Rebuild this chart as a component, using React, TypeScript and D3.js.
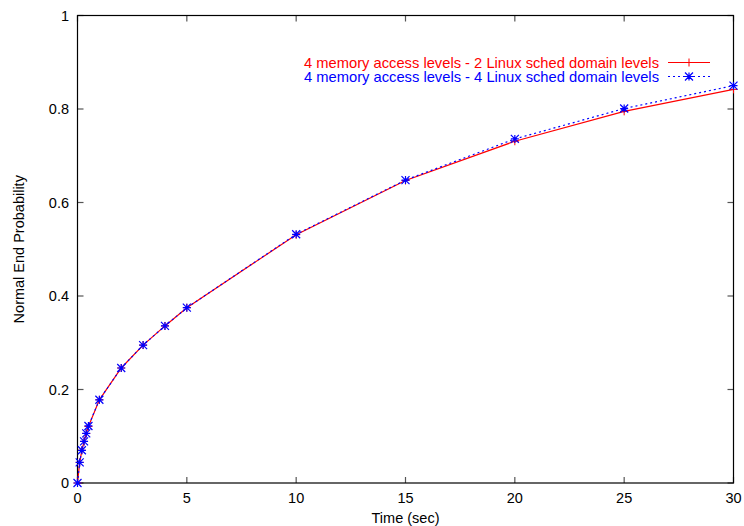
import React from "react";
import * as d3 from "d3";

const times = [0, 0.1, 0.2, 0.3, 0.4, 0.5, 1, 2, 3, 4, 5, 10, 15, 20, 25, 30];
const series2Levels = [0, 0.044, 0.07, 0.089, 0.106, 0.121, 0.178, 0.246, 0.295, 0.336, 0.375, 0.531, 0.647, 0.731, 0.795, 0.842];
const series4Levels = [0, 0.044, 0.07, 0.089, 0.106, 0.122, 0.178, 0.246, 0.295, 0.336, 0.375, 0.532, 0.648, 0.736, 0.801, 0.850];
const xTicks = [0, 5, 10, 15, 20, 25, 30];
const yTicks = [0, 0.2, 0.4, 0.6, 0.8, 1];
const labels = [
  "4 memory access levels - 2 Linux sched domain levels",
  "4 memory access levels - 4 Linux sched domain levels",
];

const W = 744;
const H = 526;
const left = 77.5;
const right = 733.5;
const top = 15.5;
const bottom = 483;
const FONT = "'Liberation Sans', Arial, sans-serif";
const FS = 14.5;

export default function App() {
  const x = d3.scaleLinear().domain([0, 30]).range([left, right]);
  const y = d3.scaleLinear().domain([0, 1]).range([bottom, top]);
  const line = d3
    .line<number>()
    .x((_, i) => x(times[i]))
    .y((d) => y(d));

  const plus = (cx: number, cy: number, s: number, color: string, key: string) => (
    <path key={key} d={`M${cx - s},${cy}H${cx + s}M${cx},${cy - s}V${cy + s}`} stroke={color} strokeWidth={1} fill="none" />
  );
  const star = (cx: number, cy: number, s: number, color: string, key: string) => (
    <path
      key={key}
      d={`M${cx - s},${cy}H${cx + s}M${cx},${cy - s}V${cy + s}M${cx - s},${cy - s}L${cx + s},${cy + s}M${cx - s},${cy + s}L${cx + s},${cy - s}`}
      stroke={color}
      strokeWidth={1.2}
      fill="none"
    />
  );

  const tickLen = 6;
  const tickColor = "#555";

  return (
    <svg width={W} height={H} style={{ position: "absolute", left: 0, top: 0 }} fontFamily={FONT}>
      <rect x={0} y={0} width={W} height={H} fill="#fff" />
      {xTicks.map((t) => (
        <g key={"xt" + t}>
          <line x1={x(t)} x2={x(t)} y1={bottom} y2={bottom - tickLen} stroke={tickColor} strokeWidth={1.2} />
          <line x1={x(t)} x2={x(t)} y1={top} y2={top + tickLen} stroke={tickColor} strokeWidth={1.2} />
          <text x={x(t)} y={503} textAnchor="middle" fontSize={FS} fill="#000">
            {t}
          </text>
        </g>
      ))}
      {yTicks.map((t) => (
        <g key={"yt" + t}>
          <line x1={left} x2={left + tickLen} y1={y(t)} y2={y(t)} stroke={tickColor} strokeWidth={1.2} />
          <line x1={right} x2={right - tickLen} y1={y(t)} y2={y(t)} stroke={tickColor} strokeWidth={1.2} />
          <text x={69} y={y(t)} dy="0.36em" textAnchor="end" fontSize={FS} fill="#000">
            {d3.format("~g")(t)}
          </text>
        </g>
      ))}
      <rect x={left} y={top} width={right - left} height={bottom - top} fill="none" stroke="#000" strokeWidth={1.2} />
      <text x={(left + right) / 2} y={523} textAnchor="middle" fontSize={FS} fill="#000">
        Time (sec)
      </text>
      <text
        transform={`translate(23.5,${(top + bottom) / 2}) rotate(-90)`}
        textAnchor="middle"
        fontSize={FS}
        fill="#000"
      >
        Normal End Probability
      </text>
      <path d={line(series2Levels) || ""} fill="none" stroke="#ff0000" strokeWidth={1.2} />
      {series2Levels.map((v, i) => plus(x(times[i]), y(v), 4, "#ff0000", "p" + i))}
      <path d={line(series4Levels) || ""} fill="none" stroke="#0000ff" strokeWidth={1.2} strokeDasharray="2,3" />
      {series4Levels.map((v, i) => star(x(times[i]), y(v), 4, "#0000ff", "s" + i))}
      <text x={304} y={62.5} dy="0.36em" fontSize={FS} fill="#ff0000" textLength={355} lengthAdjust="spacingAndGlyphs">
        {labels[0]}
      </text>
      <line x1={668} x2={710} y1={62.5} y2={62.5} stroke="#ff0000" strokeWidth={1.2} />
      {plus(689, 62.5, 4, "#ff0000", "lp")}
      <text x={304} y={76.5} dy="0.36em" fontSize={FS} fill="#0000ff" textLength={355} lengthAdjust="spacingAndGlyphs">
        {labels[1]}
      </text>
      <line x1={668} x2={710} y1={76.5} y2={76.5} stroke="#0000ff" strokeWidth={1.2} strokeDasharray="2,3" />
      {star(689, 76.5, 4, "#0000ff", "ls")}
    </svg>
  );
}
